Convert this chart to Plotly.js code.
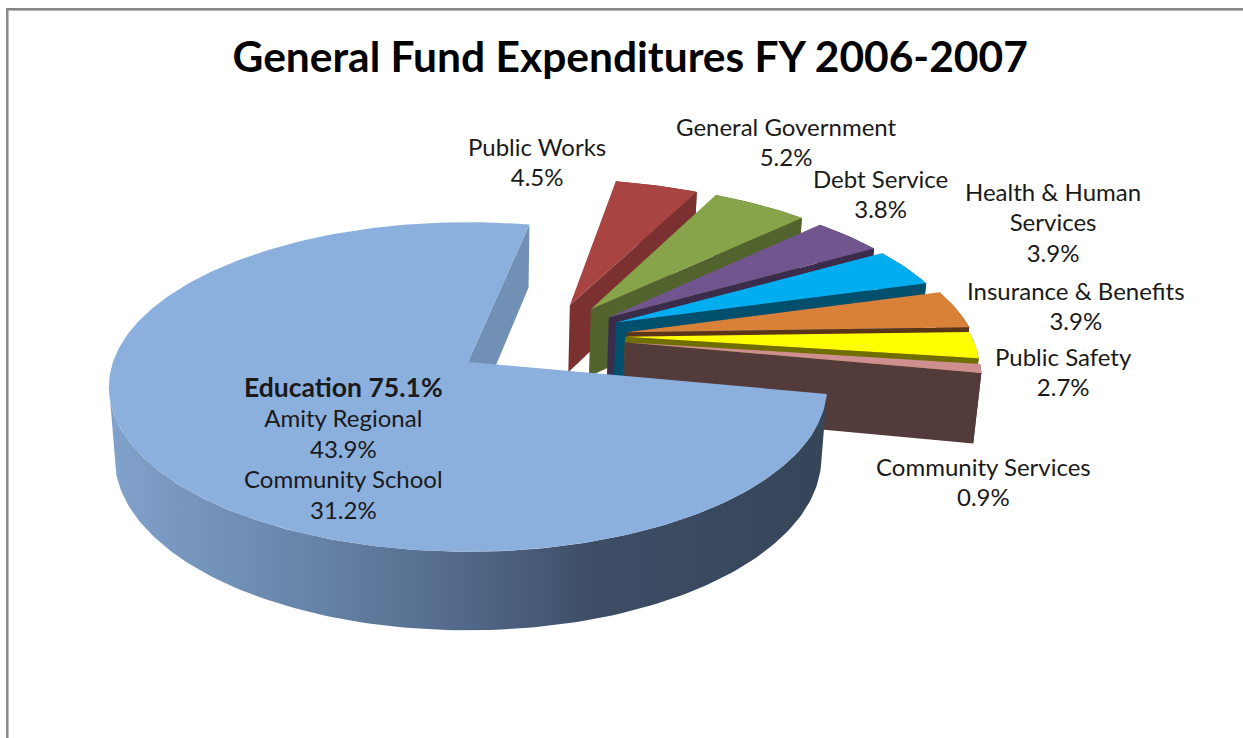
<!DOCTYPE html>
<html>
<head>
<meta charset="utf-8">
<script src="https://cdn.plot.ly/plotly-3.0.1.min.js"></script>
<style>html,body{margin:0;padding:0;background:#fff;overflow:hidden}#chart{width:1243px;height:738px}</style>
</head>
<body>
<div id="chart"></div>
<script>
const titleText = "General Fund Expenditures FY 2006-2007";
const categories = ["Education","Public Works","General Government","Debt Service","Health & Human<br>Services","Insurance & Benefits","Public Safety","Community Services"];
const shares = [75.1,4.5,5.2,3.8,3.9,3.9,2.7,0.9];
const educationParts = ["Amity Regional","Community School"];
const educationShares = [43.9,31.2];
const topColors = ["#8cb0de","#a84442","#87a44a","#71558e","#00aeef","#d98039","#ffff00","#cf8f8e"];
const wallColors = ["#7190b6","#7a3130","#52632d","#3c2c4c","#004f6c","#5a3517","#6f6f00","#533a3b"];
const labelX = [343,537,786,880,1053,1076,1063,983];
const labelY = [447,161,141,193,222,305,371,481];
const pullX = [0,0.303,0.364,0.414,0.432,0.46,0.453,0.45];
const pullY = [0,0.372,0.345,0.29,0.254,0.19,0.16,0.125];

const cam = {cx:468, cy:362, A:355, B:161, H:71, k:0.1515, m:0.016};
const startAngle = -11.1;
const rad = d => d*Math.PI/180;
function project(X,Y,z){
  const w = 1 + cam.k*Y + cam.m*z;
  return [cam.cx + cam.A*X/w, cam.cy + (-cam.B*Y + cam.H*z)/w];
}
const total = shares.reduce((a,b)=>a+b,0);
let running = startAngle;
const slices = shares.map((s,i)=>{
  const a0 = running, a1 = running - s/total*360;
  running = a1;
  return {a0,a1,ox:pullX[i],oy:pullY[i],i};
});
function rim(sl,from,to,z){
  const n = Math.max(2,Math.ceil(Math.abs(to-from)));
  const pts=[];
  for(let j=0;j<=n;j++){
    const t = rad(from+(to-from)*j/n);
    pts.push(project(sl.ox+Math.cos(t), sl.oy+Math.sin(t), z));
  }
  return pts;
}
function poly(pts,color,extra){
  return Object.assign({
    x:pts.map(p=>p[0]).concat(pts[0][0]), y:pts.map(p=>p[1]).concat(pts[0][1]),
    mode:"lines", fill:"toself", fillcolor:color, line:{width:0,color:color},
    hoverinfo:"skip", showlegend:false
  },extra||{});
}
function topFace(sl){ return poly([project(sl.ox,sl.oy,0)].concat(rim(sl,sl.a0,sl.a1,0)), topColors[sl.i]); }
function cutFace(sl,angle){
  const t=rad(angle);
  const ex=sl.ox+Math.cos(t), ey=sl.oy+Math.sin(t);
  return poly([project(sl.ox,sl.oy,0),project(ex,ey,0),project(ex,ey,1),project(sl.ox,sl.oy,1)], wallColors[sl.i]);
}
function outerWall(sl,from,to,extra){
  return poly(rim(sl,from,to,0).concat(rim(sl,from,to,1).reverse()), wallColors[sl.i], extra);
}
const traces=[];
for(let i=1;i<slices.length;i++){
  const sl=slices[i];
  traces.push(cutFace(sl,sl.a1));
  if(sl.a1<0) traces.push(outerWall(sl,Math.min(sl.a0,0),sl.a1));
  traces.push(topFace(sl));
}
const edu=slices[0];
traces.push(cutFace(edu,edu.a1));
traces.push(outerWall(edu,edu.a0,-172,{fillgradient:{type:"horizontal",start:107,stop:825,
  colorscale:[[0,"#81a2cb"],[0.25,"#6a88ad"],[0.5,"#526888"],[0.68,"#3d4d66"],[1,"#364558"]]}}));
traces.push(topFace(edu));

const line = t => `<span style="font-size:24px">${t}</span>`;
const labelFont={family:"Lato, 'Open Sans', sans-serif",size:23.4,color:"#1a1a1a"};
const annotations=shares.map((s,i)=>{
  const text = i===0
    ? `<b><span style="font-size:26.5px">${categories[0]} ${s}%</span></b><br>${line(educationParts[0])}<br>${line(educationShares[0]+"%")}<br>${line(educationParts[1])}<br>${line(educationShares[1]+"%")}`
    : categories[i].split("<br>").concat(s+"%").map(line).join("<br>");
  return {x:labelX[i],y:labelY[i],xref:"x",yref:"y",text:text,showarrow:false,align:"center",xanchor:"center",yanchor:"middle",font:labelFont};
});
const layout={
  width:1243,height:738,margin:{l:0,r:0,t:0,b:0},paper_bgcolor:"#fff",plot_bgcolor:"#fff",showlegend:false,
  title:{text:"<b>"+titleText+"</b>",x:0.507,xanchor:"center",y:0.922,yanchor:"middle",font:{family:"Lato, 'Open Sans', sans-serif",size:42.5,color:"#000"}},
  xaxis:{range:[0,1243],visible:false,fixedrange:true},
  yaxis:{range:[738,0],visible:false,fixedrange:true},
  annotations:annotations,
  shapes:[
    {type:"line",xref:"paper",yref:"paper",x0:7.3/1243,x1:7.3/1243,y0:0,y1:1-8/738,line:{color:"#8a8a8a",width:2.5},layer:"below"},
    {type:"line",xref:"paper",yref:"paper",x0:6/1243,x1:1,y0:1-9/738,y1:1-9/738,line:{color:"#868686",width:2},layer:"below"},
    {type:"line",xref:"paper",yref:"paper",x0:8/1243,x1:1,y0:1-10.5/738,y1:1-10.5/738,line:{color:"#b5b5b5",width:1},layer:"below"}
  ]
};
Plotly.newPlot("chart",traces,layout,{displayModeBar:false,staticPlot:true});
</script>
</body>
</html>
